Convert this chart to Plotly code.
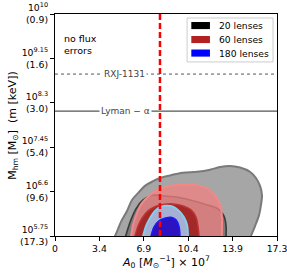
import plotly.graph_objects as go

# ---------------- data ----------------
x_tick_vals = [0, 3.46, 6.92, 10.38, 13.84, 17.2999]
x_tick_text = ["0", "3.4", "6.9", "10.4", "13.9", "17.3"]
y_tick_vals = [5.75, 6.6, 7.45, 8.3, 9.15, 9.9999]
y_tick_text = ["10<sup>5.75</sup><br>(17.3)", "10<sup>6.6</sup><br>(9.6)", "10<sup>7.45</sup><br>(5.4)",
               "10<sup>8.3</sup><br>(3.0)", "10<sup>9.15</sup><br>(1.6)", "10<sup>10</sup><br>(0.9)"]

true_A0 = 8.18
rxj_mhm = 8.85
lyman_mhm = 8.14

legend_labels = ["20 lenses", "60 lenses", "180 lenses"]
legend_colors = ["black", "#b22222", "blue"]

# contour outlines (A0, log10 Mhm)
c20_outer_x = [4.44, 4.75, 5.14, 5.61, 6.00, 6.47, 7.01, 7.64, 8.18, 8.96, 9.97, 11.07, 12.08, 12.86, 13.64,
               14.42, 15.19, 15.66, 15.98, 16.13, 16.05, 15.90, 15.59, 15.27, 15.12]
c20_outer_y = [5.64, 5.79, 6.02, 6.23, 6.44, 6.57, 6.71, 6.80, 6.86, 6.91, 6.96, 6.98, 7.02, 7.07, 7.09,
               7.06, 6.98, 6.86, 6.71, 6.53, 6.34, 6.15, 5.94, 5.75, 5.64]
c20_inner_x = [5.38, 5.61, 5.92, 6.31, 6.86, 7.56, 8.34, 9.35, 10.52, 11.69, 12.70, 13.17, 13.33, 13.33, 13.33]
c20_inner_y = [5.64, 5.83, 6.06, 6.27, 6.44, 6.53, 6.52, 6.50, 6.44, 6.36, 6.27, 6.13, 5.94, 5.75, 5.64]
c60_outer_x = [5.77, 5.92, 6.08, 6.39, 6.78, 7.33, 7.95, 8.65, 9.59, 10.52, 11.30, 11.92, 12.39, 12.70, 12.94,
               13.01, 13.01, 13.01]
c60_outer_y = [5.64, 5.75, 5.96, 6.19, 6.38, 6.52, 6.63, 6.69, 6.73, 6.73, 6.71, 6.65, 6.55, 6.44, 6.29,
               6.09, 5.86, 5.64]
c60_inner_x = [6.08, 6.23, 6.47, 6.78, 7.25, 7.87, 8.57, 9.35, 10.05, 10.60, 10.99, 11.14, 11.22, 11.22]
c60_inner_y = [5.64, 5.75, 5.94, 6.09, 6.23, 6.32, 6.36, 6.36, 6.32, 6.25, 6.11, 5.94, 5.75, 5.64]
c180_outer_x = [6.70, 6.86, 7.09, 7.40, 7.79, 8.26, 8.73, 9.20, 9.66, 10.05, 10.29, 10.36, 10.36]
c180_outer_y = [5.64, 5.75, 5.94, 6.09, 6.23, 6.31, 6.33, 6.31, 6.23, 6.11, 5.96, 5.75, 5.64]
c180_inner_x = [7.33, 7.48, 7.71, 8.10, 8.57, 9.04, 9.43, 9.66, 9.74, 9.74]
c180_inner_y = [5.64, 5.75, 5.92, 6.04, 6.09, 6.11, 6.06, 5.94, 5.75, 5.64]

# ---------------- figure ----------------
FONT = "DejaVu Sans"
fig = go.Figure()

contours = [
    (c20_outer_x, c20_outer_y, "#a6a6a6", "#7a7a7a", 2.0),
    (c20_inner_x, c20_inner_y, "#7c7c7c", "#3a3a3a", 1.6),
    (c60_outer_x, c60_outer_y, "rgba(240,128,128,0.75)", "#f28888", 2.0),
    (c60_inner_x, c60_inner_y, "#a32828", "#c03232", 1.5),
    (c180_outer_x, c180_outer_y, "#a4b0d4", "#87ceeb", 2.0),
    (c180_inner_x, c180_inner_y, "#2c12c0", "#1a1aff", 1.5),
]
for cx, cy, fc, lc, lw in contours:
    fig.add_trace(go.Scatter(x=cx, y=cy, mode="lines", fill="toself", fillcolor=fc,
                             line=dict(color=lc, width=lw, shape="spline", smoothing=1.0),
                             showlegend=False, hoverinfo="skip"))

shapes = []
# reference horizontal lines
shapes.append(dict(type="line", xref="paper", x0=0, x1=1, yref="y", y0=rxj_mhm, y1=rxj_mhm,
                   line=dict(color="#555555", width=1, dash="dot")))
shapes.append(dict(type="line", xref="paper", x0=0, x1=1, yref="y", y0=lyman_mhm, y1=lyman_mhm,
                   line=dict(color="#555555", width=1.2)))
# true value
shapes.append(dict(type="line", xref="x", x0=true_A0, x1=true_A0, yref="paper", y0=0, y1=1,
                   line=dict(color="red", width=2.5, dash="6px,3px")))

annotations = []
annotations.append(dict(text="RXJ-1131", x=5.38, y=rxj_mhm, xref="x", yref="y", showarrow=False,
                        xanchor="center", yanchor="middle", bgcolor="white", borderpad=1,
                        font=dict(family=FONT, size=9, color="#444444")))
annotations.append(dict(text="Lyman − α", x=5.53, y=lyman_mhm, xref="x", yref="y", showarrow=False,
                        xanchor="center", yanchor="middle", bgcolor="white", borderpad=1,
                        font=dict(family=FONT, size=9, color="#444444")))
annotations.append(dict(text="no flux<br>errors", x=0.03, y=0.925, xref="paper", yref="paper",
                        xanchor="left", yanchor="top", align="left", showarrow=False,
                        font=dict(family=FONT, size=9.5, color="black")))

# legend box
shapes.append(dict(type="rect", xref="paper", yref="paper", x0=0.595, x1=0.982, y0=0.784, y1=0.982,
                   fillcolor="rgba(255,255,255,0.85)", line=dict(color="#cccccc", width=1)))
row_y = [0.948, 0.885, 0.824]
for lab, col, ry in zip(legend_labels, legend_colors, row_y):
    shapes.append(dict(type="rect", xref="paper", yref="paper", x0=0.614, x1=0.698,
                       y0=ry - 0.016, y1=ry + 0.016, fillcolor=col, line=dict(width=0)))
    annotations.append(dict(text=lab, x=0.73, y=ry, xref="paper", yref="paper", xanchor="left",
                            yanchor="middle", showarrow=False,
                            font=dict(family=FONT, size=9.2, color="black")))

# axis titles
annotations.append(dict(text="M<sub>hm</sub> [M<sub>⊙</sub>]  (m [keV])", x=-0.19, y=0.5,
                        xref="paper", yref="paper", textangle=-90, showarrow=False,
                        xanchor="center", yanchor="middle",
                        font=dict(family=FONT, size=11, color="black")))
annotations.append(dict(text="<i>A</i><sub>0</sub> [<i>M</i><sub>⊙</sub><sup>−1</sup>] × 10<sup>7</sup>",
                        x=0.5, y=-0.117, xref="paper", yref="paper", showarrow=False,
                        xanchor="center", yanchor="middle",
                        font=dict(family=FONT, size=11, color="black")))

axis_common = dict(showgrid=False, zeroline=False, showline=True, linecolor="black", linewidth=1.2,
                   mirror=True, ticks="outside", ticklen=4, tickcolor="black", tickwidth=1,
                   automargin=False, ticklabeloverflow="allow",
                   tickfont=dict(family=FONT, size=9.3, color="black"))

fig.update_layout(
    width=287, height=274,
    margin=dict(l=55, r=10, t=14, b=38),
    paper_bgcolor="white", plot_bgcolor="white",
    showlegend=False,
    xaxis=dict(range=[0, 17.3], tickvals=x_tick_vals, ticktext=x_tick_text, **axis_common),
    yaxis=dict(range=[5.75, 10.0], tickvals=y_tick_vals, ticktext=y_tick_text, **axis_common),
    shapes=shapes, annotations=annotations,
)

fig.write_html("out.html", config={"displayModeBar": False},
               post_script="document.body.style.margin='0px';document.body.style.overflow='hidden';")
